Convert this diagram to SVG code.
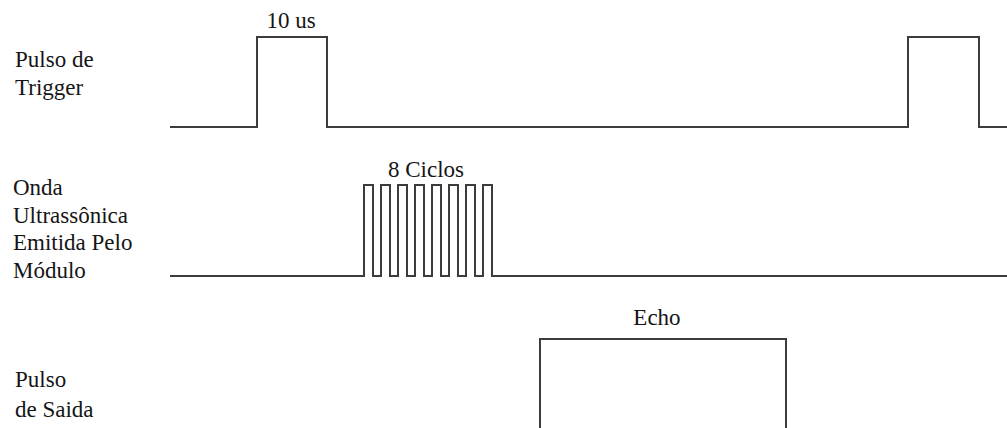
<svg xmlns="http://www.w3.org/2000/svg" width="1007" height="428" viewBox="0 0 1007 428">
<style>
.t{font-family:'Liberation Serif','DejaVu Serif',serif;font-size:23px;fill:#151515}
.w{fill:none;stroke:#3c3c3c;stroke-width:2;stroke-linejoin:miter}
</style>
<rect width="1007" height="428" fill="#fff"/>
<g id="trigger">
<text class="t" x="15" y="67">Pulso de</text>
<text class="t" x="15" y="95">Trigger</text>
<text class="t" x="291" y="28" text-anchor="middle">10 us</text>
<path class="w" d="M170 127H257V37H327V127H908V37H979V127H1007"/>
</g>
<g id="ultrassom">
<text class="t" x="13" y="195">Onda</text>
<text class="t" x="13" y="223">Ultrassônica</text>
<text class="t" x="13" y="250">Emitida Pelo</text>
<text class="t" x="13" y="278">Módulo</text>
<text class="t" x="426" y="177" text-anchor="middle">8 Ciclos</text>
<path class="w" d="M170 276H364V185H373V276H381V185H390V276H398V185H407V276H415V185H424V276H432V185H441V276H449V185H458V276H466V185H475V276H483V185H492V276H1007"/>
</g>
<g id="saida">
<text class="t" x="15" y="387">Pulso</text>
<text class="t" x="15" y="417">de Saida</text>
<text class="t" x="657" y="325" text-anchor="middle">Echo</text>
<path class="w" d="M540 430V339H786V430"/>
</g>
<g id="connectors"></g>
</svg>
